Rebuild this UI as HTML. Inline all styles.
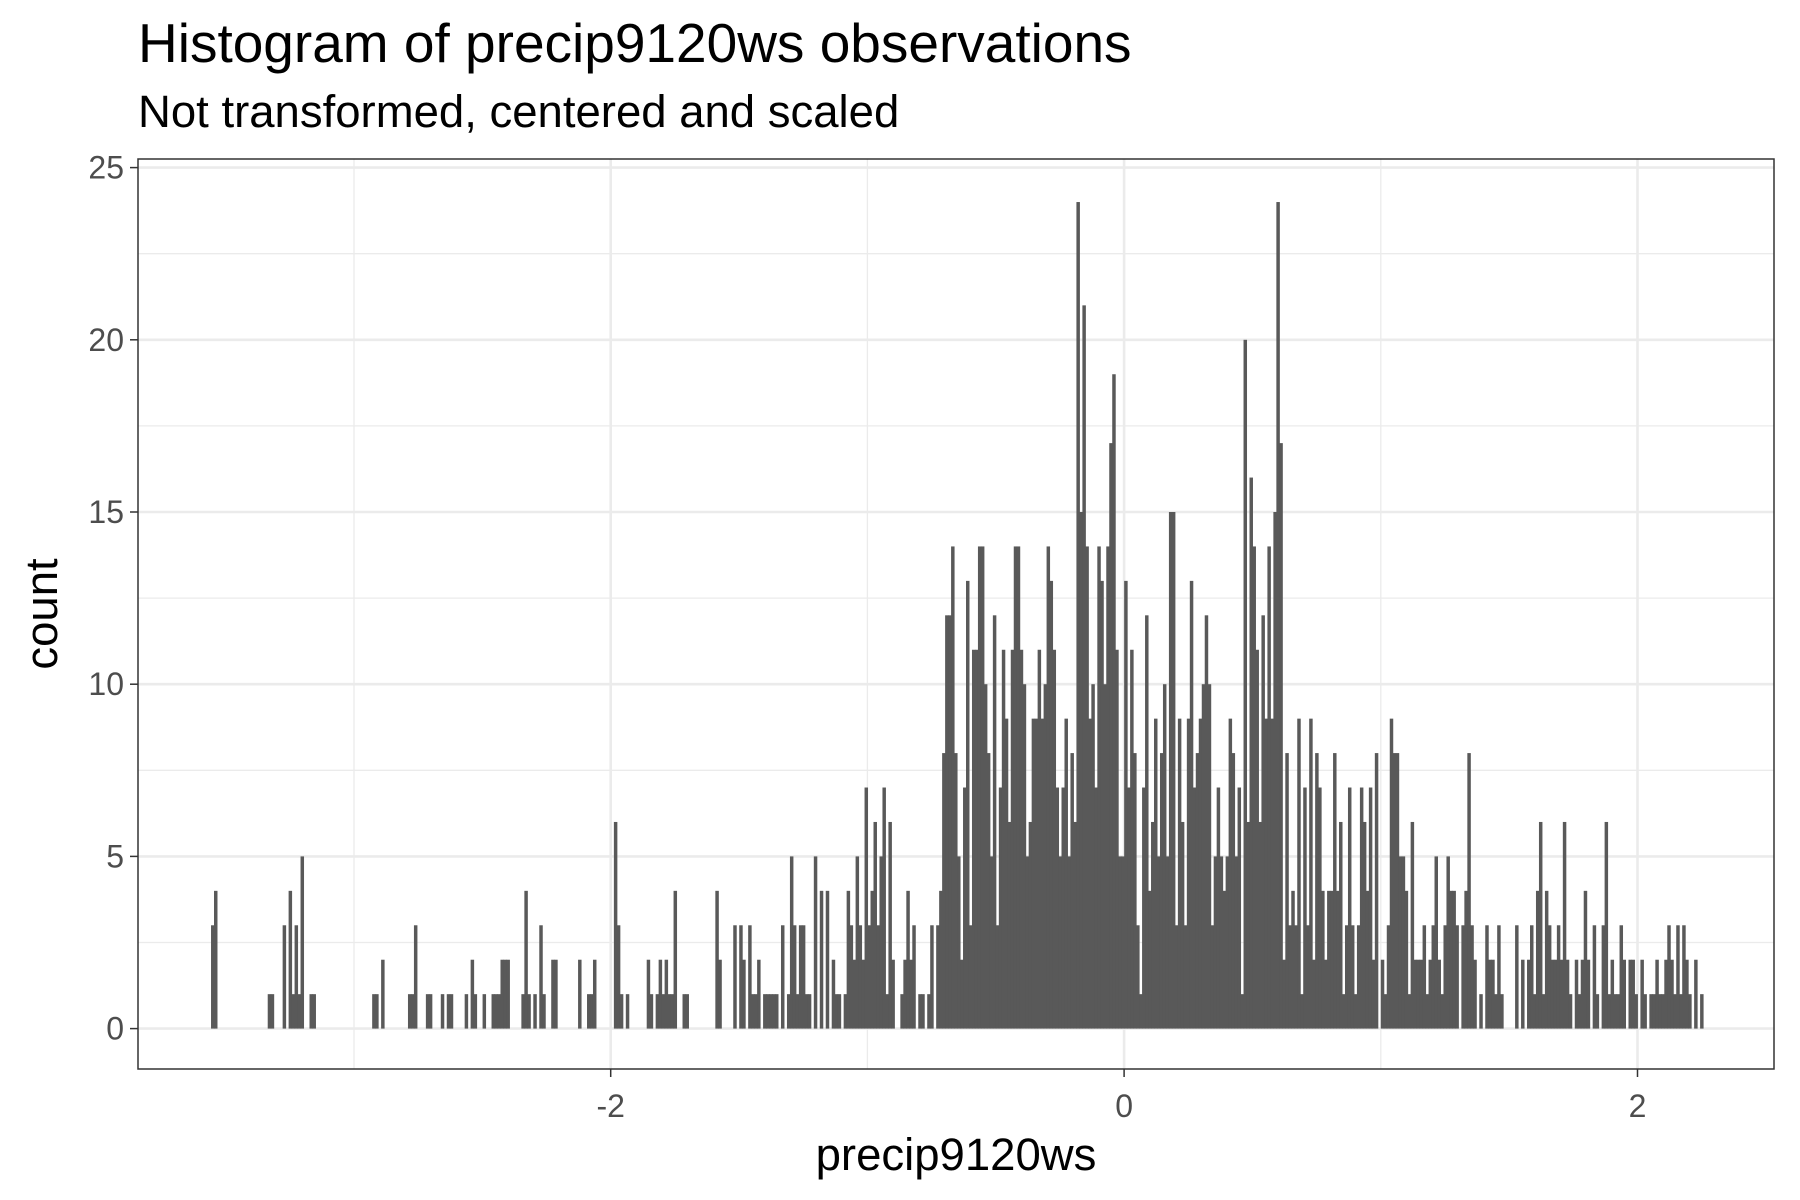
<!DOCTYPE html>
<html><head><meta charset="utf-8">
<style>
html,body{margin:0;padding:0;background:#fff;}
svg{display:block;font-family:"Liberation Sans",Arial,sans-serif;}
</style></head>
<body>
<svg id="chart" width="1800" height="1200" viewBox="0 0 1800 1200">
  <rect x="0" y="0" width="1800" height="1200" fill="#ffffff"/>
  <text x="138" y="62" font-size="55" fill="#000">Histogram of precip9120ws observations</text>
  <text x="138" y="127" font-size="45.5" fill="#000">Not transformed, centered and scaled</text>
  <g id="grid"></g>
  <g id="bars"></g>
  <rect x="138" y="159" width="1636" height="910" fill="none" stroke="#333333" stroke-width="1.5"/>
  <g id="axes"></g>
  <text x="956" y="1170" font-size="45.5" text-anchor="middle" fill="#000">precip9120ws</text>
  <text transform="translate(57,614) rotate(-90)" font-size="45.5" text-anchor="middle" fill="#000">count</text>
</svg>
<script>
const binStart = -3.557;
const binWidth = 0.011625;
const counts = [
3,4,0,0,0,0,0,0,0,0, 0,0,0,0,0,0,0,0,0,1, 1,0,0,0,3,0,4,1,3,1, 5,0,0,1,1,0,0,0,0,0,
0,0,0,0,0,0,0,0,0,0, 0,0,0,0,1,1,0,2,0,0, 0,0,0,0,0,0,1,1,3,0, 0,0,1,1,0,0,0,1,0,1,
1,0,0,0,0,1,0,2,1,0, 0,1,0,0,1,1,1,2,2,2, 0,0,0,0,1,4,1,0,1,0, 3,1,0,0,2,2,0,0,0,0,
0,0,0,2,0,0,1,1,2,0, 0,0,0,0,0,6,3,1,0,1, 0,0,0,0,0,0,2,1,0,1, 2,1,2,1,1,4,0,0,1,1,
0,0,0,0,0,0,0,0,0,4, 2,0,0,0,0,3,0,3,2,0, 3,1,1,2,0,1,1,1,1,1, 0,3,0,1,5,3,1,3,3,1,
1,0,5,0,4,0,4,0,2,1, 1,0,1,4,3,2,5,3,2,7, 3,4,6,3,5,7,1,6,2,0, 0,1,2,4,2,3,0,1,1,0,
1,3,0,3,4,8,12,12,14,8, 5,2,7,13,3,11,11,14,14,10, 8,5,12,3,7,11,9,6,11,14, 14,11,10,5,6,9,9,11,9,10,
14,13,11,7,5,7,9,5,8,6, 24,15,21,14,9,10,7,14,13,10, 14,17,19,11,5,5,13,7,11,8, 3,1,7,12,4,6,9,5,8,10,
5,15,15,3,9,6,3,9,13,7, 8,9,10,12,10,3,5,7,5,4, 5,9,8,5,7,1,20,6,16,14, 11,6,12,9,14,9,15,24,17,2,
8,3,4,3,9,1,7,3,9,2, 8,7,4,2,4,4,8,4,6,1, 3,7,3,1,3,7,6,4,7,2, 8,0,2,1,3,9,8,8,5,5,
4,1,6,2,2,2,3,1,2,3, 5,2,1,3,5,4,4,3,0,3, 4,8,3,2,0,1,0,3,2,2, 1,3,1,0,0,0,0,3,0,2,
0,2,3,1,4,6,1,4,3,2, 2,3,2,6,2,1,0,2,1,2, 4,2,0,3,1,0,3,6,1,2, 1,1,3,2,0,2,2,1,0,2,
1,0,1,1,2,1,1,2,3,2, 1,3,1,3,2,1,0,2,0,1
];
const xTicks = [-2, 0, 2];
const xMinor = [-3, -1, 1];
const yTicks = [0, 5, 10, 15, 20, 25];
const yMinor = [2.5, 7.5, 12.5, 17.5, 22.5];

const NS = "http://www.w3.org/2000/svg";
const P = {left:138, right:1774, top:159, bottom:1069};
function xs(v){ return 1124.1 + v * 256.7; }
function ys(v){ return 1028.6 - v * 34.44; }
function mk(tag, attrs, parent){
  const e = document.createElementNS(NS, tag);
  for (const k in attrs) e.setAttribute(k, attrs[k]);
  parent.appendChild(e);
  return e;
}
const grid = document.getElementById('grid');
const bars = document.getElementById('bars');
const axes = document.getElementById('axes');

yMinor.forEach(v => {
  const l = mk('line', {x1:P.left, x2:P.right, y1:ys(v), y2:ys(v), stroke:'#ebebeb', 'stroke-width':1.3}, grid);
  
  
});
xMinor.forEach(v => {
  const l = mk('line', {x1:xs(v), x2:xs(v), y1:P.top, y2:P.bottom, stroke:'#ebebeb', 'stroke-width':1.3}, grid);
  
  
});
yTicks.forEach(v => {
  const l = mk('line', {x1:P.left, x2:P.right, y1:ys(v), y2:ys(v), stroke:'#ebebeb', 'stroke-width':2.6}, grid);
  
  
});
xTicks.forEach(v => {
  const l = mk('line', {x1:xs(v), x2:xs(v), y1:P.top, y2:P.bottom, stroke:'#ebebeb', 'stroke-width':2.6}, grid);
  
  
});

counts.forEach((c, i) => {
  if (c <= 0) return;
  const x0 = xs(binStart + i * binWidth);
  const x1 = xs(binStart + (i + 1) * binWidth);
  const r = mk('rect', {x:x0, y:ys(c), width:Math.max(0.5, x1 - x0 + 0.5), height:ys(0) - ys(c), fill:'#595959'}, bars);
  
  
});

yTicks.forEach(v => {
  const t = mk('line', {x1:P.left - 8, x2:P.left, y1:ys(v), y2:ys(v), stroke:'#333333', 'stroke-width':1.5}, axes);
  
  
  const lb = mk('text', {x:P.left - 14, y:ys(v) + 11, 'font-size':32, 'text-anchor':'end', fill:'#4d4d4d'}, axes);
  lb.textContent = String(v);
  
  
});
xTicks.forEach(v => {
  const t = mk('line', {x1:xs(v), x2:xs(v), y1:P.bottom, y2:P.bottom + 8, stroke:'#333333', 'stroke-width':1.5}, axes);
  
  
  const lb = mk('text', {x:xs(v), y:P.bottom + 48, 'font-size':32, 'text-anchor':'middle', fill:'#4d4d4d'}, axes);
  lb.textContent = String(v);
  
  
});
</script>
</body></html>
